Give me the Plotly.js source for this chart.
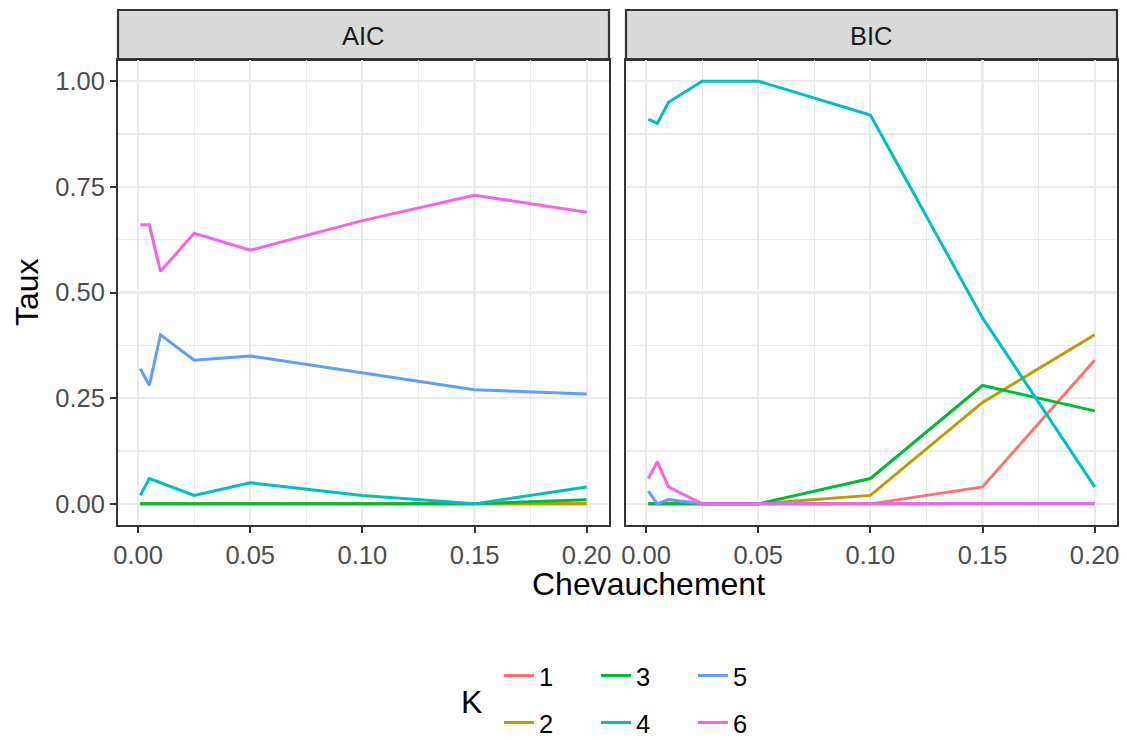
<!DOCTYPE html>
<html>
<head>
<meta charset="utf-8">
<script src="https://cdn.plot.ly/plotly-3.0.1.min.js"></script>
<style>html,body{margin:0;padding:0;background:#fff;}#chart{width:1127px;height:740px;}</style>
</head>
<body>
<div id="chart"></div>
<script>
// Data
const chevauchement = [0.001, 0.005, 0.01, 0.025, 0.05, 0.10, 0.15, 0.20];
const kLabels = ['1', '2', '3', '4', '5', '6'];
const panels = ['AIC', 'BIC'];

const aicK1 = [0, 0, 0, 0, 0, 0, 0, 0];
const aicK2 = [0, 0, 0, 0, 0, 0, 0, 0];
const aicK3 = [0, 0, 0, 0, 0, 0, 0, 0.01];
const aicK4 = [0.02, 0.06, 0.05, 0.02, 0.05, 0.02, 0.00, 0.04];
const aicK5 = [0.32, 0.28, 0.40, 0.34, 0.35, 0.31, 0.27, 0.26];
const aicK6 = [0.66, 0.66, 0.55, 0.64, 0.60, 0.67, 0.73, 0.69];

const bicK1 = [0, 0, 0, 0, 0, 0, 0.04, 0.34];
const bicK2 = [0, 0, 0, 0, 0, 0.02, 0.24, 0.40];
const bicK3 = [0, 0, 0, 0, 0, 0.06, 0.28, 0.22];
const bicK4 = [0.91, 0.90, 0.95, 1.00, 1.00, 0.92, 0.44, 0.04];
const bicK5 = [0.03, 0.00, 0.01, 0, 0, 0, 0, 0];
const bicK6 = [0.06, 0.10, 0.04, 0, 0, 0, 0, 0];

const yTicks = [0, 0.25, 0.5, 0.75, 1.0];
const xTicks = [0, 0.05, 0.10, 0.15, 0.20];

const colors = ['#F8766D', '#B79F00', '#00BA38', '#00BFC4', '#619CFF', '#F564E3'];
const aic = [aicK1, aicK2, aicK3, aicK4, aicK5, aicK6];
const bic = [bicK1, bicK2, bicK3, bicK4, bicK5, bicK6];

const FONT = 'Liberation Sans, Arial, sans-serif';
const TICK = 25.5, TITLE = 32;
const traces = [];
aic.forEach((vals, i) => {
  traces.push({
    type: 'scatter', mode: 'lines', x: chevauchement, y: vals,
    xaxis: 'x', yaxis: 'y', name: kLabels[i], legendgroup: kLabels[i],
    line: {color: colors[i], width: 3},
    showlegend: true,
    legend: (i % 2 === 0) ? 'legend' : 'legend2'
  });
});
bic.forEach((vals, i) => {
  traces.push({
    type: 'scatter', mode: 'lines', x: chevauchement, y: vals,
    xaxis: 'x2', yaxis: 'y2', name: kLabels[i], legendgroup: kLabels[i],
    line: {color: colors[i], width: 3},
    showlegend: false
  });
});

const L = 118, R = 1117, T = 60, B = 525;
const W = R - L, H = B - T;
const px = v => (v - L) / W;
const py = v => (B - v) / H;

const xaxisBase = {
  range: [-0.00895, 0.20995],
  tickvals: xTicks, tickformat: '.2f',
  showgrid: true, gridcolor: '#EBEBEB', gridwidth: 2.2,
  minor: {dtick: 0.025, tick0: 0, showgrid: true, gridcolor: '#EBEBEB', gridwidth: 1.1},
  zeroline: false,
  showline: true, linecolor: '#333333', linewidth: 2, mirror: true,
  ticks: 'outside', ticklen: 6, tickwidth: 2, tickcolor: '#333333',
  tickfont: {family: FONT, size: TICK, color: '#4D4D4D'},
  automargin: false,
  fixedrange: true
};
const yaxisBase = {
  range: [-0.05, 1.05],
  tickvals: yTicks, tickformat: '.2f',
  showgrid: true, gridcolor: '#EBEBEB', gridwidth: 2.2,
  minor: {dtick: 0.125, tick0: 0, showgrid: true, gridcolor: '#EBEBEB', gridwidth: 1.1},
  zeroline: false,
  showline: true, linecolor: '#333333', linewidth: 2, mirror: true,
  ticks: 'outside', ticklen: 6, tickwidth: 2, tickcolor: '#333333',
  tickfont: {family: FONT, size: TICK, color: '#4D4D4D'},
  automargin: false,
  fixedrange: true
};

const shapes = [];
const annotations = [];
const panelX = [[L, 609], [626, R]];
panels.forEach((p, i) => {
  shapes.push({
    type: 'rect', xref: 'paper', yref: 'paper',
    x0: px(panelX[i][0]), x1: px(panelX[i][1]), y0: py(T), y1: py(10),
    fillcolor: '#D9D9D9', line: {color: '#333333', width: 2.2}, layer: 'below'
  });
  annotations.push({
    xref: 'paper', yref: 'paper', x: px((panelX[i][0] + panelX[i][1]) / 2), y: py(36),
    xanchor: 'center', yanchor: 'middle', showarrow: false, text: p,
    font: {family: FONT, size: TICK, color: '#1A1A1A'}
  });
});
annotations.push({
  xref: 'paper', yref: 'paper', x: px(648), y: py(584), xanchor: 'center', yanchor: 'middle',
  showarrow: false, text: 'Chevauchement', font: {family: FONT, size: TITLE, color: '#000'}
});
annotations.push({
  xref: 'paper', yref: 'paper', x: px(27), y: py(292), xanchor: 'center', yanchor: 'middle',
  showarrow: false, text: 'Taux', textangle: -90, font: {family: FONT, size: TITLE, color: '#000'}
});
annotations.push({
  xref: 'paper', yref: 'paper', x: px(471), y: py(702), xanchor: 'center', yanchor: 'middle',
  showarrow: false, text: 'K', font: {family: FONT, size: TITLE, color: '#000'}
});

const legendBase = {
  orientation: 'h', xanchor: 'left', yanchor: 'middle',
  font: {family: FONT, size: TICK, color: '#000'},
  bgcolor: 'rgba(0,0,0,0)', borderwidth: 0,
  entrywidth: 52, entrywidthmode: 'pixels', traceorder: 'normal'
};

const layout = {
  width: 1127, height: 740,
  margin: {l: L, r: 1127 - R, t: T, b: 740 - B, autoexpand: false},
  paper_bgcolor: '#FFFFFF', plot_bgcolor: '#FFFFFF',
  font: {family: FONT},
  xaxis: Object.assign({}, xaxisBase, {domain: [0, px(609)], anchor: 'y'}),
  xaxis2: Object.assign({}, xaxisBase, {domain: [px(626), 1], anchor: 'y2'}),
  yaxis: Object.assign({}, yaxisBase, {domain: [0, 1], anchor: 'x'}),
  yaxis2: Object.assign({}, yaxisBase, {domain: [0, 1], anchor: 'x2', matches: 'y', showticklabels: false, ticks: ''}),
  legend: Object.assign({}, legendBase, {x: px(499), y: py(676)}),
  legend2: Object.assign({}, legendBase, {x: px(499), y: py(723)}),
  shapes: shapes,
  annotations: annotations,
  showlegend: true
};

Plotly.newPlot('chart', traces, layout, {displayModeBar: false, staticPlot: true});
</script>
</body>
</html>
